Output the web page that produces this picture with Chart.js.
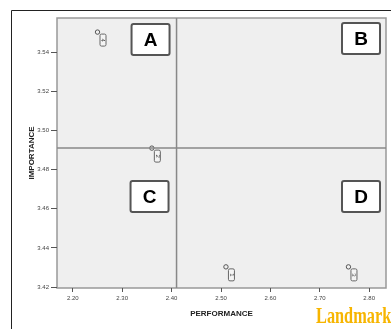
<!DOCTYPE html>
<html>
<head>
<meta charset="utf-8">
<script src="https://cdn.jsdelivr.net/npm/chart.js@4"></script>
<style>
  html, body { margin: 0; padding: 0; background: #fff; }
  #wrap { position: relative; width: 391px; height: 329px; overflow: hidden; }
  #brand {
    position: absolute; left: 316px; top: 303px;
    font-family: "Liberation Serif", serif; font-weight: bold; font-size: 24px;
    color: #f7b500; transform: scaleX(0.68); transform-origin: left top;
    white-space: nowrap; line-height: 1;
  }
</style>
</head>
<body>
<div id="wrap">
  <canvas id="ipa" width="391" height="329"></canvas>
  <div id="brand">Landmark</div>
</div>
<script>
// points
const pointLabels = ["4", "2", "1", "3"];
const performance = [2.25, 2.36, 2.51, 2.758];
const importance = [3.5503, 3.491, 3.4303, 3.4303];

// means (the cross lines)
const perfMean = 2.41;
const impMean = 3.491;

const xTicks = [2.20, 2.30, 2.40, 2.50, 2.60, 2.70, 2.80];
const yTicks = [3.42, 3.44, 3.46, 3.48, 3.50, 3.52, 3.54];
const xMin = 2.168, xMax = 2.834;
const yMin = 3.4195, yMax = 3.5575;

const quadrantLabels = ["A", "B", "C", "D"];

const points = performance.map((p, i) => ({ x: p, y: importance[i] }));

const ipaPlugin = {
  id: "ipa",
  beforeDraw(chart) {
    const { ctx, chartArea: a } = chart;
    ctx.save();
    // outer frame
    ctx.strokeStyle = "#222";
    ctx.lineWidth = 1;
    ctx.beginPath();
    ctx.moveTo(11.5, 329);
    ctx.lineTo(11.5, 10.5);
    ctx.lineTo(391, 10.5);
    ctx.stroke();
    // plot background
    ctx.fillStyle = "#efefef";
    ctx.fillRect(a.left, a.top, a.right - a.left, a.bottom - a.top);
    ctx.strokeStyle = "#999";
    ctx.lineWidth = 1.5;
    ctx.strokeRect(a.left, a.top, a.right - a.left, a.bottom - a.top);
    ctx.restore();
  },
  afterDatasetsDraw(chart) {
    const { ctx, chartArea: a, scales } = chart;
    ctx.save();
    // little rotated id boxes next to each point
    const meta = chart.getDatasetMeta(2);
    meta.data.forEach((el, i) => {
      const bx = el.x + 2.5, by = el.y + 2;
      ctx.fillStyle = "#f4f4f4";
      ctx.strokeStyle = "#666";
      ctx.lineWidth = 1;
      ctx.beginPath();
      ctx.roundRect(bx, by, 6, 12, 1.5);
      ctx.fill();
      ctx.stroke();
      ctx.save();
      ctx.translate(bx + 3, by + 6);
      ctx.rotate(Math.PI / 2);
      ctx.fillStyle = "#444";
      ctx.font = "6px Arial";
      ctx.textAlign = "center";
      ctx.textBaseline = "middle";
      ctx.fillText(pointLabels[i], 0, 0);
      ctx.restore();
    });
    // quadrant boxes
    const vx = scales.x.getPixelForValue(perfMean);
    const hy = scales.y.getPixelForValue(impMean);
    const right = [vx - 7, a.right - 6, vx - 8, a.right - 6];
    const top = [a.top + 6, a.top + 5, hy + 33, hy + 33];
    quadrantLabels.forEach((q, i) => {
      const w = 38, h = 31;
      const x0 = right[i] - w, y0 = top[i];
      ctx.fillStyle = "#fff";
      ctx.strokeStyle = "#555";
      ctx.lineWidth = 2;
      ctx.beginPath();
      ctx.roundRect(x0, y0, w, h, 2);
      ctx.fill();
      ctx.stroke();
      ctx.fillStyle = "#000";
      ctx.font = "bold 19px Arial";
      ctx.textAlign = "center";
      ctx.textBaseline = "middle";
      ctx.fillText(q, x0 + w / 2, y0 + h / 2 + 1);
    });
    ctx.restore();
  }
};

new Chart(document.getElementById("ipa"), {
  type: "scatter",
  data: {
    datasets: [
      {
        type: "line",
        data: [{ x: perfMean, y: yMin }, { x: perfMean, y: yMax }],
        borderColor: "#888",
        borderWidth: 1.5,
        pointRadius: 0
      },
      {
        type: "line",
        data: [{ x: xMin, y: impMean }, { x: xMax, y: impMean }],
        borderColor: "#888",
        borderWidth: 1.5,
        pointRadius: 0
      },
      {
        data: points,
        pointRadius: 2.2,
        borderColor: "#555",
        borderWidth: 1,
        backgroundColor: "rgba(0,0,0,0)"
      }
    ]
  },
  options: {
    responsive: false,
    devicePixelRatio: 1,
    animation: false,
    layout: { padding: { left: 0, top: 18, right: 2, bottom: 0 } },
    plugins: { legend: { display: false }, tooltip: { enabled: false } },
    scales: {
      x: {
        type: "linear",
        min: xMin,
        max: xMax,
        afterFit: (s) => { s.height = 41; },
        afterBuildTicks: (s) => { s.ticks = xTicks.map(v => ({ value: v })); },
        grid: { drawOnChartArea: false, drawTicks: true, tickLength: 4, color: "#555" },
        border: { display: false },
        ticks: {
          font: { family: "Arial", size: 6 },
          color: "#444",
          padding: 3,
          maxRotation: 0,
          callback: (v) => v.toFixed(2)
        },
        title: {
          display: true,
          text: "PERFORMANCE",
          font: { family: "Arial", size: 8, weight: "bold" },
          color: "#222",
          padding: { bottom: 10, top: 0 }
        }
      },
      y: {
        type: "linear",
        min: yMin,
        max: yMax,
        afterFit: (s) => { s.width = 57; },
        afterBuildTicks: (s) => { s.ticks = yTicks.map(v => ({ value: v })); },
        grid: { drawOnChartArea: false, drawTicks: true, tickLength: 6, color: "#555" },
        border: { display: false },
        ticks: {
          font: { family: "Arial", size: 6 },
          color: "#444",
          padding: 2,
          callback: (v) => v.toFixed(2)
        },
        title: {
          display: true,
          text: "IMPORTANCE",
          font: { family: "Arial", size: 8, weight: "bold" },
          color: "#222",
          padding: { top: 27, bottom: 0 }
        }
      }
    }
  },
  plugins: [ipaPlugin]
});
</script>
</body>
</html>
